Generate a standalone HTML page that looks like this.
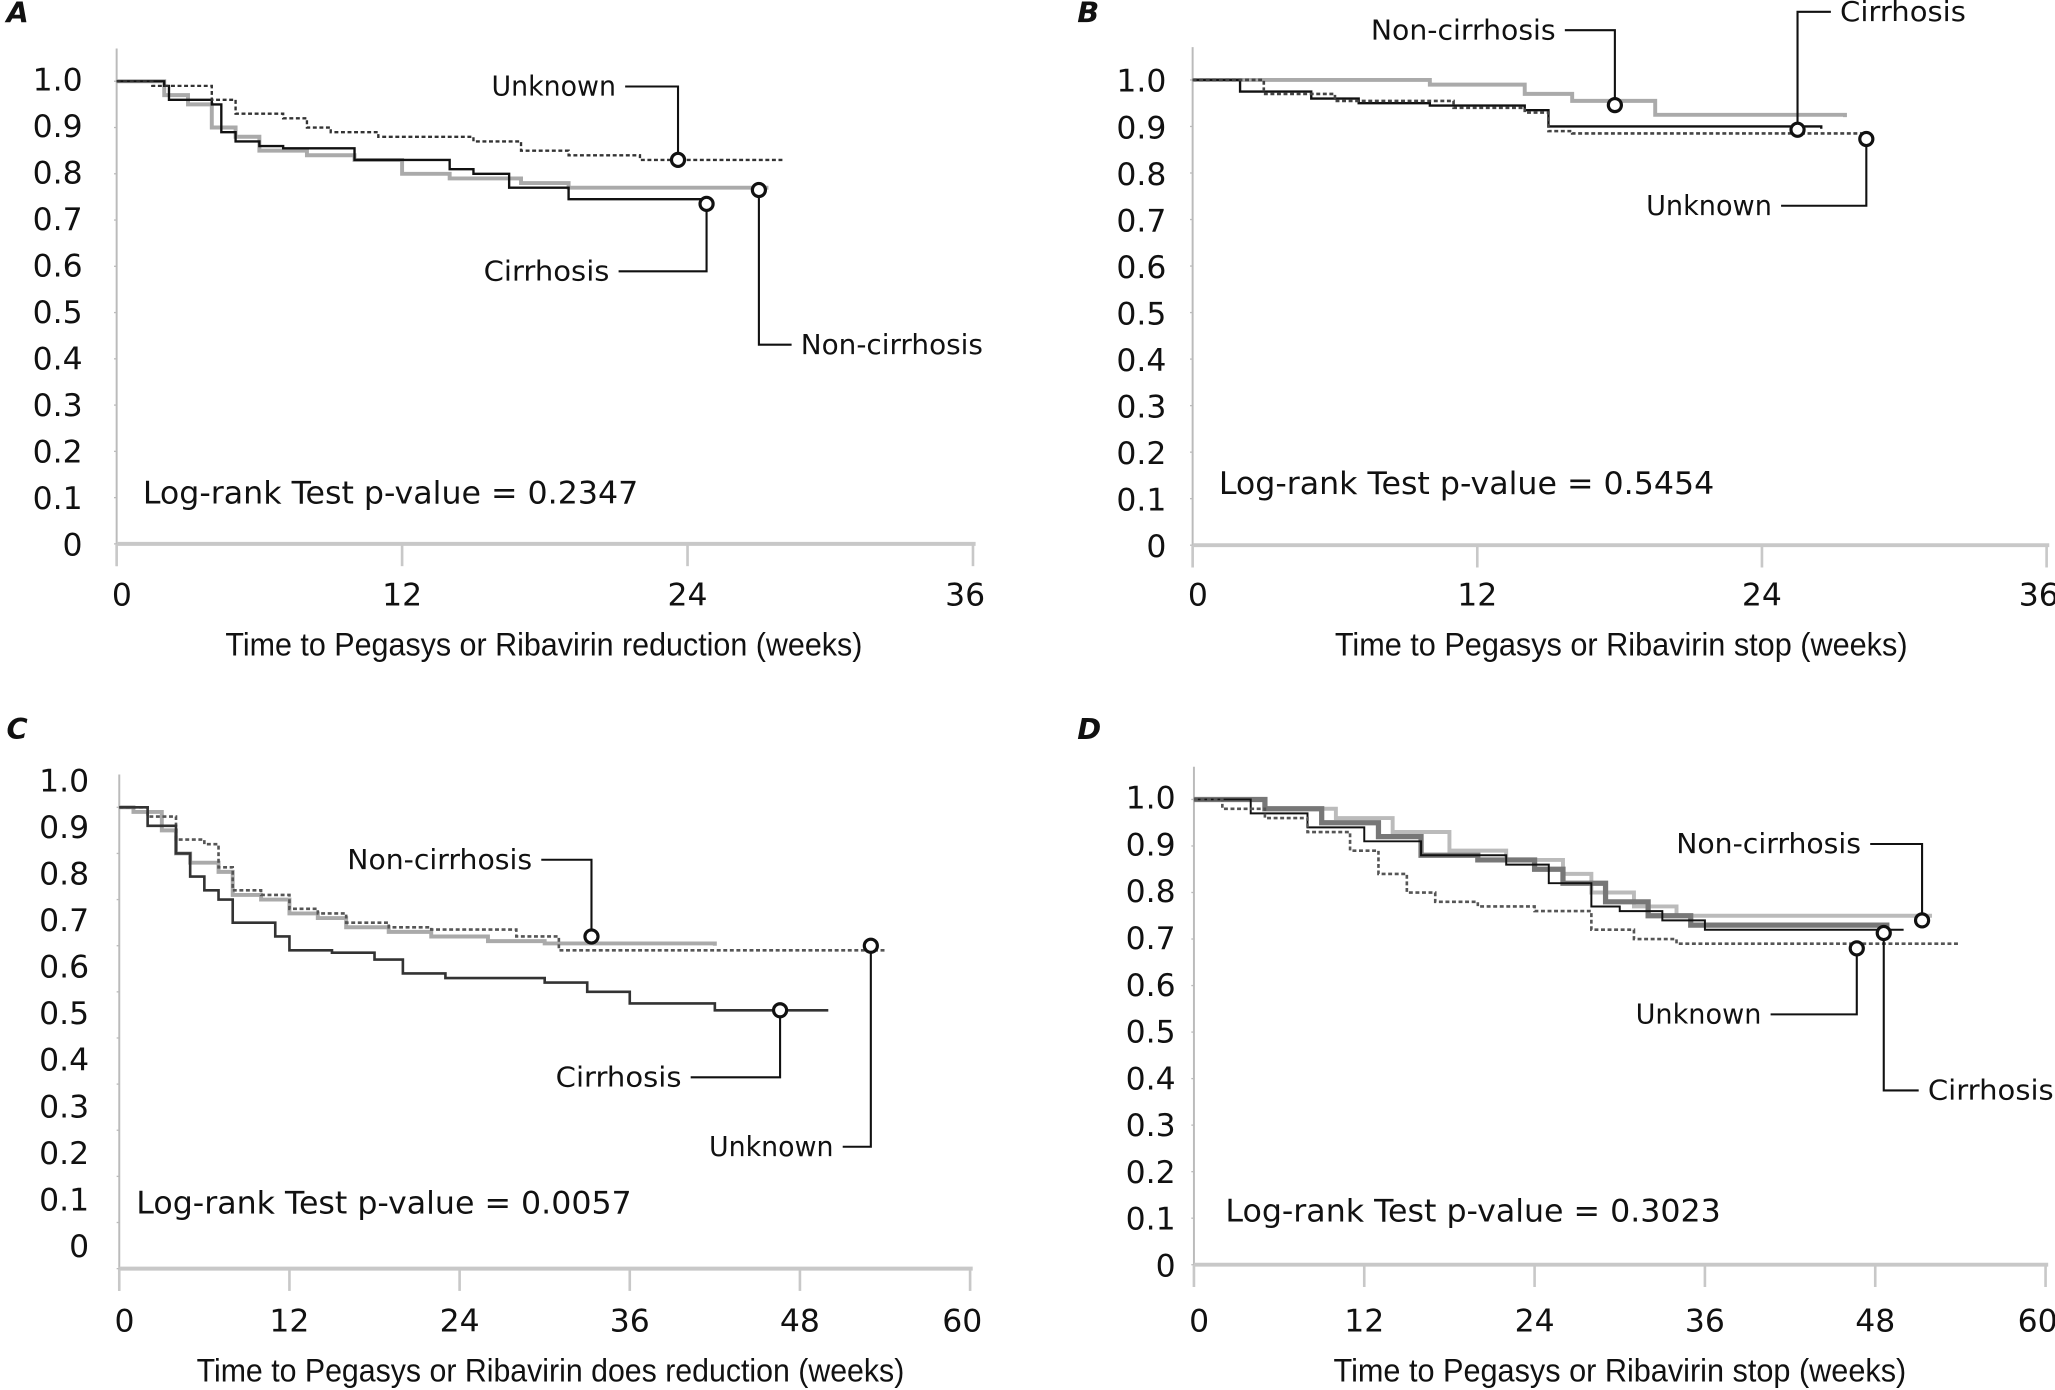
<!DOCTYPE html>
<html><head><meta charset="utf-8">
<style>
html,body{margin:0;padding:0;background:#fff;}
svg{display:block;}
text{font-family:"DejaVu Sans","Liberation Sans",sans-serif;fill:#111;}
.xt{font-family:"Liberation Sans",sans-serif;}
</style></head>
<body>
<svg id="fig" width="2055" height="1390" viewBox="0 0 1568 1060.6" xmlns="http://www.w3.org/2000/svg"></svg>
<script>
// ---- data (week, survival) ----
const aUnknown = [[0,1],[1.5,0.99],[4,0.96],[5,0.93],[7,0.92],[8,0.9],[9,0.89],[11,0.88],[15,0.87],[17,0.85],[19,0.84],[22,0.83],[28,0.83]];
const aCirrhosis = [[0,1],[2,0.99],[2.2,0.96],[4,0.95],[4.4,0.89],[5,0.87],[6,0.86],[7,0.855],[10,0.83],[14,0.81],[15,0.8],[16.5,0.77],[19,0.745],[25,0.745]];
const aNonCirrhosis = [[0,1],[2,0.97],[3,0.95],[4,0.9],[5,0.88],[6,0.85],[8,0.84],[10,0.83],[12,0.8],[14,0.79],[17,0.78],[19,0.77],[27.4,0.77]];
const bNonCirrhosis = [[0,1],[10,0.99],[14,0.97],[16,0.955],[19.5,0.925],[27.5,0.92]];
const bCirrhosis = [[0,1],[2,0.975],[5,0.96],[7,0.95],[10,0.945],[14,0.935],[15,0.9],[26.5,0.895]];
const bUnknown = [[0,1],[3,0.97],[6,0.955],[11,0.94],[14,0.93],[15,0.89],[16,0.885],[28.5,0.885]];
const cNonCirrhosis = [[0,1],[1,0.99],[3,0.95],[4,0.9],[5,0.88],[7,0.86],[8,0.81],[10,0.8],[12,0.77],[14,0.76],[16,0.74],[19,0.73],[22,0.72],[26,0.71],[30,0.705],[42,0.7]];
const cUnknown = [[0,1],[2,0.98],[4,0.93],[6,0.92],[7,0.87],[8,0.82],[10,0.81],[12,0.78],[14,0.77],[16,0.75],[19,0.74],[22,0.735],[28,0.72],[31,0.69],[54,0.69]];
const cCirrhosis = [[0,1],[2,0.96],[4,0.9],[5,0.85],[6,0.82],[7,0.8],[8,0.75],[11,0.72],[12,0.69],[15,0.685],[18,0.67],[20,0.64],[23,0.63],[30,0.62],[33,0.6],[36,0.575],[42,0.56],[50,0.56]];
const dNonCirrhosis = [[0,1],[5,0.98],[10,0.96],[14,0.93],[18,0.89],[22,0.87],[26,0.84],[28,0.8],[31,0.77],[34,0.75],[52,0.75]];
const dCirrhosis = [[0,1],[5,0.98],[9,0.95],[13,0.92],[16,0.88],[20,0.87],[24,0.85],[26,0.82],[29,0.78],[32,0.75],[35,0.73],[49,0.73]];
const dOther = [[0,1],[4,0.97],[8,0.94],[12,0.91],[16,0.88],[22,0.86],[25,0.82],[28,0.77],[30,0.76],[33,0.74],[36,0.72],[50,0.72]];
const dUnknown = [[0,1],[2,0.98],[5,0.96],[8,0.93],[11,0.89],[13,0.84],[15,0.8],[17,0.78],[20,0.77],[24,0.76],[28,0.72],[31,0.7],[34,0.69],[54,0.69]];
const yTickLabels = ["0","0.1","0.2","0.3","0.4","0.5","0.6","0.7","0.8","0.9","1.0"];
const xTicks36 = [0,12,24,36];
const xTicks60 = [0,12,24,36,48,60];
const pValues = ["0.2347","0.5454","0.0057","0.3023"];
const censorA = [[23.6,0.83],[24.8,0.735],[27.0,0.765]];
const censorB = [[17.8,0.946],[25.5,0.893],[28.4,0.873]];
const censorC = [[33.3,0.72],[46.6,0.56],[53,0.70]];
const censorD = [[51.3,0.74],[46.7,0.68],[48.6,0.713]];

const NS="http://www.w3.org/2000/svg";
const svg=document.getElementById('fig');
function el(tag,attrs,parent){const e=document.createElementNS(NS,tag);for(const k in attrs)e.setAttribute(k,attrs[k]);(parent||svg).appendChild(e);return e;}

const panels=[
 {id:'a',letter:'A',lx:5,ly:17,x0:89,pxw:18.15,xmax:36,ticks:xTicks36,yAxis:415,y1:62,lblRight:63,lbl0:415,lblSp:35.5,xlY:462,title:"Time to Pegasys or Ribavirin reduction (weeks)",tx:415,ty:500,tw:486,px:109,py:384,pw:378},
 {id:'b',letter:'B',lx:822,ly:17,x0:910,pxw:18.1,xmax:36,ticks:xTicks36,yAxis:416,y1:61,lblRight:890,lbl0:416,lblSp:35.5,xlY:462,title:"Time to Pegasys or Ribavirin stop (weeks)",tx:1237,ty:500,tw:437,px:930,py:377,pw:378},
 {id:'c',letter:'C',lx:5,ly:564,x0:91,pxw:10.82,xmax:60,ticks:xTicks60,yAxis:968,y1:616,lblRight:68,lbl0:950,lblSp:35.5,xlY:1016,title:"Time to Pegasys or Ribavirin does reduction (weeks)",tx:420,ty:1054,tw:540,px:104,py:926,pw:378},
 {id:'d',letter:'D',lx:822,ly:564,x0:911,pxw:10.83,xmax:60,ticks:xTicks60,yAxis:965,y1:610,lblRight:897,lbl0:965,lblSp:35.7,xlY:1016,title:"Time to Pegasys or Ribavirin stop (weeks)",tx:1236,ty:1054,tw:437,px:935,py:932,pw:378}
];
const series={
 a:[[aNonCirrhosis,'#aaa',3,null,'non-cirrhosis'],[aCirrhosis,'#111',1.8,null,'cirrhosis'],[aUnknown,'#333',1.8,'3,2','unknown']],
 b:[[bNonCirrhosis,'#aaa',3,null,'non-cirrhosis'],[bCirrhosis,'#111',1.8,null,'cirrhosis'],[bUnknown,'#444',2,'3,2','unknown']],
 c:[[cNonCirrhosis,'#aaa',3,null,'non-cirrhosis'],[cUnknown,'#555',2,'3,2','unknown'],[cCirrhosis,'#333',2,null,'cirrhosis']],
 d:[[dNonCirrhosis,'#bbb',3,null,'non-cirrhosis'],[dCirrhosis,'#777',4,null,'cirrhosis'],[dOther,'#111',1.5,null,'cirrhosis-inner'],[dUnknown,'#555',2,'3,2','unknown']]
};
const censors={a:censorA,b:censorB,c:censorC,d:censorD};
const annots={
 a:[["Unknown",470,73,'end',95],["Cirrhosis",465,214,'end',96],["Non-cirrhosis",611,270,'start',139]],
 b:[["Non-cirrhosis",1187,30,'end',141],["Cirrhosis",1404,16,'start',96],["Unknown",1352,164,'end',96]],
 c:[["Non-cirrhosis",406,663,'end',141],["Cirrhosis",520,829,'end',96],["Unknown",636,882,'end',95]],
 d:[["Non-cirrhosis",1420,651,'end',141],["Unknown",1344,781,'end',96],["Cirrhosis",1471,839,'start',96]]
};

panels.forEach((p,pi)=>{
 const g=el('g',{});
 
 
 const X=w=>p.x0+w*p.pxw;
 const Y=v=>p.yAxis-(p.yAxis-p.y1)*v;
 const letter=el('text',{x:p.lx,y:p.ly,'font-size':22,'font-weight':'bold','font-style':'italic'},g);
 letter.textContent=p.letter;
 
 
 const ya=el('line',{x1:p.x0,y1:p.y1-25,x2:p.x0,y2:p.yAxis+17,stroke:'#bbb','stroke-width':1.5},g);
 
 
 const xa=el('line',{x1:p.x0,y1:p.yAxis,x2:X(p.xmax)+2,y2:p.yAxis,stroke:'#c8c8c8','stroke-width':3},g);
 
 
 yTickLabels.forEach((l,i)=>{
  const t=el('text',{x:p.lblRight,y:p.lbl0-i*p.lblSp+9,'font-size':24,'text-anchor':'end'},g);
  t.textContent=l;
  
  
  el('line',{x1:p.x0-2,x2:p.x0,y1:Y(i/10),y2:Y(i/10),stroke:'#bbb'},g);
 });
 p.ticks.forEach(v=>{
  const tk=el('line',{x1:X(v),x2:X(v),y1:p.yAxis,y2:p.yAxis+17,stroke:'#c8c8c8','stroke-width':2},g);
  
  
  const t=el('text',{x:X(v)+(v===0?4:0)-(v===p.xmax?6:0),y:p.xlY,'font-size':24,'text-anchor':'middle'},g);
  t.textContent=String(v);
  
  
 });
 const tt=el('text',{class:'xt',x:p.tx,y:p.ty,'font-size':25,'text-anchor':'middle',textLength:p.tw,lengthAdjust:'spacingAndGlyphs'},g);
 tt.textContent=p.title;
 
 
 const pv=el('text',{x:p.px,y:p.py,'font-size':24,textLength:p.pw,lengthAdjust:'spacingAndGlyphs'},g);
 pv.textContent="Log-rank Test p-value = "+pValues[pi];
 
 
 series[p.id].forEach(s=>{
  const pts=s[0];let d='M'+X(pts[0][0])+','+Y(pts[0][1]);
  for(let i=1;i<pts.length;i++){d+=' H'+X(pts[i][0])+' V'+Y(pts[i][1]);}
  const path=el('path',{d:d,fill:'none',stroke:s[1],'stroke-width':s[2]},g);
  if(s[3])path.setAttribute('stroke-dasharray',s[3]);
  
  
 });
 censors[p.id].forEach((c,i)=>{
  const cx=X(c[0]),cy=Y(c[1]);
  const a=annots[p.id][i];
  const midY=a[2]-7;
  let d;
  if(a[3]==='end'){d='M'+(a[1]+7)+','+midY+' H'+cx+' V'+cy;}
  else{d='M'+cx+','+cy+' V'+midY+' H'+(a[1]-7);}
  const ld=el('path',{d:d,fill:'none',stroke:'#111','stroke-width':1.6},g);
  
  
  const circ=el('circle',{cx:cx,cy:cy,r:5,fill:'#fff',stroke:'#111','stroke-width':2.4},g);
  
  
  const t=el('text',{x:a[1],y:a[2],'font-size':21,'text-anchor':a[3],textLength:a[4],lengthAdjust:'spacingAndGlyphs'},g);
  t.textContent=a[0];
  
  
 });
});
</script>
</body></html>
